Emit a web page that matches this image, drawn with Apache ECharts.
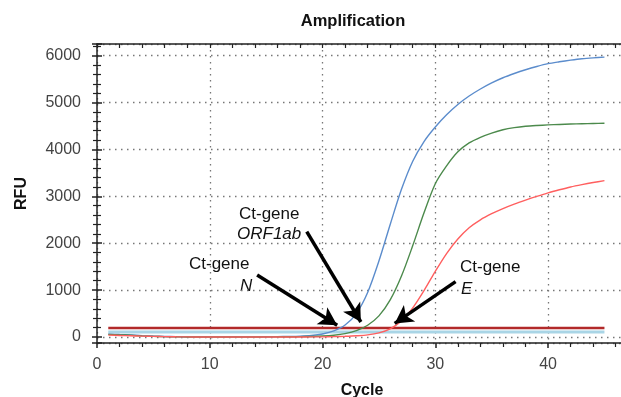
<!DOCTYPE html>
<html>
<head>
<meta charset="utf-8">
<script src="https://cdn.jsdelivr.net/npm/echarts@6/dist/echarts.min.js"></script>
<style>html,body{margin:0;padding:0;background:#fff}#c{width:621px;height:397px}</style>
</head>
<body>
<div id="c"></div>
<script>
const cycles = [1,2,3,4,5,6,7,8,9,10,11,12,13,14,15,16,17,18,19,20,21,22,23,24,25,26,27,28,29,30,31,32,33,34,35,36,37,38,39,40,41,42,43,44,45];
const geneN = [62,52,42,30,20,12,7,5,4,4,4,4,5,5,6,8,11,17,32,65,130,255,500,950,1620,2400,3150,3750,4170,4480,4740,4960,5140,5290,5420,5530,5620,5700,5770,5830,5870,5905,5935,5955,5970];
const geneORF1ab = [55,46,36,24,14,7,3,1,0,0,0,0,0,1,2,3,5,8,12,20,38,72,135,250,450,790,1300,1950,2650,3270,3650,3950,4140,4260,4350,4420,4465,4495,4512,4524,4534,4542,4549,4555,4560];
const geneE = [40,33,26,19,13,8,4,2,0,0,0,0,0,0,0,0,1,1,2,3,8,15,26,45,88,175,340,620,990,1400,1780,2090,2330,2500,2630,2740,2835,2920,3000,3075,3140,3200,3250,3295,3335];
const thresholdCycles = [1,45];
const thresholdRed = [190,190];
const thresholdBlue = [105,105];
const xTicks = [0,10,20,30,40];
const yTicks = [0,1000,2000,3000,4000,5000,6000];

const pairs = (xs, ys) => xs.map((x,i)=>[x, ys[i]]);
const FONT = 'Liberation Sans';
const chart = echarts.init(document.getElementById('c'), null, {renderer:'canvas'});
const axisCol = '#222';
const grid = {left:97, top:44, width:530, height:299, outerBoundsMode:'none', containLabel:false};
const yBase = {type:'value', min:-128, max:6250, splitNumber:6};
const txt = (t, l, tp, italic) => ({type:'text', left:l, top:tp, style:{text:t, font:(italic?'italic ':'')+'17px "Liberation Sans"', fill:'#111'}});
chart.setOption({
  animation:false,
  title:{text:'Amplification', left:348, textAlign:'center', top:8, textStyle:{fontFamily:FONT, fontSize:16.5, fontWeight:'bold', color:'#111'}},
  grid: grid,
  xAxis:[
    {type:'value', min:0, max:47, interval:10, position:'bottom',
     name:'Cycle', nameLocation:'middle', nameGap:40, nameTextStyle:{fontFamily:FONT, fontSize:16, fontWeight:'bold', color:'#111'},
     axisLine:{show:true, onZero:false, lineStyle:{color:axisCol, width:1.5}},
     axisTick:{show:true, inside:false, length:5, lineStyle:{color:axisCol, width:1.5}},
     minorTick:{show:true, splitNumber:5, length:4, lineStyle:{color:axisCol, width:1.2}},
     axisLabel:{show:true, margin:14, fontFamily:FONT, fontSize:16, color:'#444', showMaxLabel:false,
       formatter:v=> xTicks.includes(v) ? String(v) : ''},
     splitLine:{show:true, lineStyle:{color:'#777', width:1.3, type:[1.5,4.5]}}},
    {type:'value', min:0, max:47, interval:2, position:'top',
     axisLine:{show:true, onZero:false, lineStyle:{color:axisCol, width:1.5}},
     axisTick:{show:true, inside:true, length:4, lineStyle:{color:axisCol, width:1.2}},
     axisLabel:{show:false}, splitLine:{show:false}}
  ],
  yAxis:[
    Object.assign({}, yBase, {position:'left',
     name:'RFU', nameLocation:'middle', nameGap:67, nameRotate:90, nameTextStyle:{fontFamily:FONT, fontSize:16, fontWeight:'bold', color:'#111'},
     axisLine:{show:true, onZero:false, lineStyle:{color:axisCol, width:1.5}},
     axisTick:{show:true, inside:false, length:5, lineStyle:{color:axisCol, width:1.5}},
     minorTick:{show:true, splitNumber:5, length:4, lineStyle:{color:axisCol, width:1.2}},
     axisLabel:{show:true, margin:16, fontFamily:FONT, fontSize:16, color:'#444', showMinLabel:false, showMaxLabel:false,
       formatter:v=> yTicks.includes(v) ? String(v) : ''},
     splitLine:{show:true, lineStyle:{color:'#777', width:1.3, type:[1.5,4.5]}}}),
    Object.assign({}, yBase, {position:'left',
     axisLine:{show:false},
     axisTick:{show:true, inside:true, length:5, lineStyle:{color:axisCol, width:1.5}},
     minorTick:{show:true, splitNumber:5, length:4, lineStyle:{color:axisCol, width:1.2}},
     axisLabel:{show:false}, splitLine:{show:false}})
  ],
  series:[
    {type:'line', name:'threshold-blue', data:pairs(thresholdCycles, thresholdBlue), symbol:'none', lineStyle:{color:'#a9d5e6', width:3}, silent:true},
    {type:'line', name:'threshold-red', data:pairs(thresholdCycles, thresholdRed), symbol:'none', lineStyle:{color:'#b22a2a', width:2.5}, silent:true,
     markLine:{silent:true, symbol:['none','arrow'], symbolSize:[15,18], label:{show:false},
       lineStyle:{color:'#000', width:3.5, type:'solid'},
       data:[
         [{coord:[14.2,1323]},{coord:[21.3,250]}],
         [{coord:[18.6,2246]},{coord:[23.4,320]}],
         [{coord:[31.8,1180]},{coord:[26.4,290]}]
       ]}},
    {type:'line', name:'N', data:pairs(cycles, geneN), symbol:'none', smooth:0.3, lineStyle:{color:'#5b8ccc', width:1.4}},
    {type:'line', name:'ORF1ab', data:pairs(cycles, geneORF1ab), symbol:'none', smooth:0.3, lineStyle:{color:'#4c8a4c', width:1.4}},
    {type:'line', name:'E', data:pairs(cycles, geneE), symbol:'none', smooth:0.3, lineStyle:{color:'#ff5f5f', width:1.4}}
  ],
  graphic:[
    txt('Ct-gene', 239, 206, false),
    txt('ORF1ab', 237, 226, true),
    txt('Ct-gene', 189, 256, false),
    txt('N', 240, 278, true),
    txt('Ct-gene', 460, 259, false),
    txt('E', 461, 281, true)
  ]
});
</script>
</body>
</html>
